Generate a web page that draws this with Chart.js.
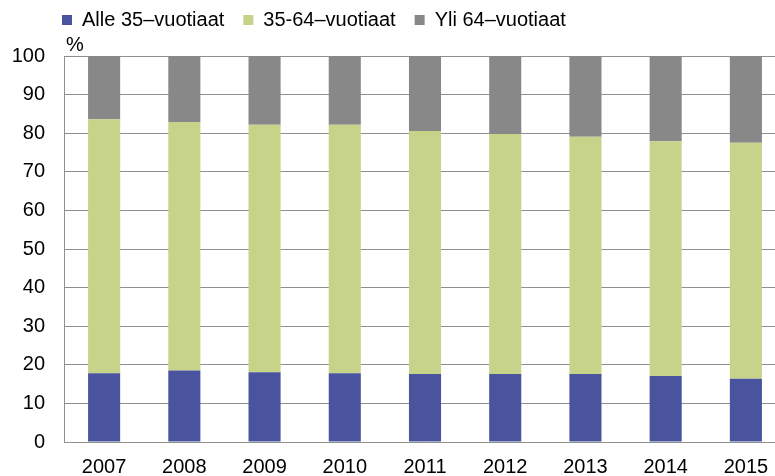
<!DOCTYPE html>
<html>
<head>
<meta charset="utf-8">
<script src="https://cdn.jsdelivr.net/npm/chart.js@4/dist/chart.umd.min.js"></script>
<style>
html,body{margin:0;padding:0;background:#fff;overflow:hidden;}
#wrap{width:800px;height:476px;}
</style>
</head>
<body>
<div id="wrap"><canvas id="c" width="800" height="476"></canvas></div>
<script>
const years = ['2007','2008','2009','2010','2011','2012','2013','2014','2015'];
const seriesNames = ['Alle 35\u2013vuotiaat','35-64\u2013vuotiaat','Yli 64\u2013vuotiaat'];
const under35 = [17.8, 18.5, 18.1, 17.8, 17.6, 17.6, 17.6, 17.1, 16.4];
const age35to64 = [65.8, 64.4, 64.1, 64.4, 63.0, 62.2, 61.5, 60.8, 61.1];
const over64 = [16.4, 17.1, 17.8, 17.8, 19.4, 20.2, 20.9, 22.1, 22.5];
const yTicks = [0,10,20,30,40,50,60,70,80,90,100];

const FONT = "'Liberation Sans', Arial, sans-serif";
const gridCol = '#8f8f8f';
const LEG_PAD = 19;

const tweakPlugin = {
  id: 'tweak',
  afterLayout(chart) {
    const lg = chart.legend;
    if (lg) {
      const h = lg.height;
      lg.left = 62 - LEG_PAD;
      lg.top = 10 - LEG_PAD;
      lg.bottom = lg.top + h;
    }
  },
  afterDraw(chart) {
    const ctx = chart.ctx;
    ctx.save();
    ctx.font = '20px ' + FONT;
    ctx.fillStyle = '#000';
    ctx.textAlign = 'left';
    ctx.textBaseline = 'alphabetic';
    ctx.fillText('%', chart.chartArea.left + 2, chart.chartArea.top - 5);
    ctx.restore();
  }
};

new Chart(document.getElementById('c'), {
  type: 'bar',
  data: {
    labels: years,
    datasets: [
      {label: seriesNames[0], data: under35, backgroundColor: '#4a549e'},
      {label: seriesNames[1], data: age35to64, backgroundColor: '#c8d38a'},
      {label: seriesNames[2], data: over64, backgroundColor: '#888888'}
    ]
  },
  options: {
    responsive: false,
    animation: false,
    layout: {padding: {top: 7, right: 14, left: 0, bottom: 0}},
    datasets: {bar: {categoryPercentage: 1, barPercentage: 0.4}},
    plugins: {
      title: {display: false},
      tooltip: {enabled: false},
      legend: {
        position: 'top',
        align: 'start',
        labels: {
          boxWidth: 10, boxHeight: 10, padding: LEG_PAD,
          color: '#000',
          font: {family: FONT, size: 20}
        }
      }
    },
    scales: {
      x: {
        stacked: true,
        grid: {display: false, drawTicks: false},
        border: {display: true, color: gridCol, width: 1},
        afterFit: (s) => { s.height = 34; },
        ticks: {color: '#000', font: {family: FONT, size: 20}, padding: 13, maxRotation: 0}
      },
      y: {
        stacked: true,
        min: 0, max: 100,
        afterBuildTicks: (s) => { s.ticks = yTicks.map(v => ({value: v})); },
        afterFit: (s) => { s.width = 64; },
        grid: {color: gridCol, lineWidth: 1, drawTicks: false},
        border: {display: true, color: gridCol, width: 1},
        ticks: {color: '#000', font: {family: FONT, size: 20}, padding: 19}
      }
    }
  },
  plugins: [tweakPlugin]
});
</script>
</body>
</html>
